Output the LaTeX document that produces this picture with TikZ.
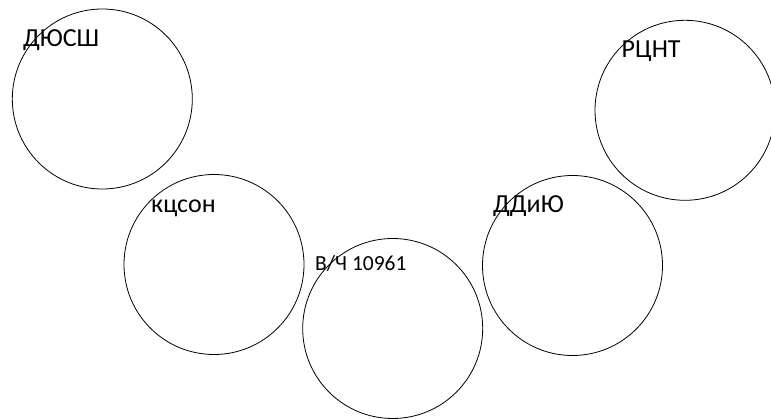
\documentclass[tikz,border=0pt]{standalone}
\usepackage{fontspec}
\setmainfont{Carlito}
\usepackage{tikz}
\pgfdeclarelayer{bg}
\pgfsetlayers{bg,main}
\tikzset{
        ring/.style={draw, circle, line width=0.8pt, minimum size=180pt, inner sep=0pt},
        tag/.style={anchor=base west, inner sep=0pt, font=\fontsize{26}{28}\selectfont},
        smalltag/.style={tag, font=\fontsize{21.5}{23}\selectfont}
}

\begin{document}
\begin{tikzpicture}
        \useasboundingbox (0pt, 0pt) rectangle (771pt, -419pt);
        \node (t0) [tag] at (23.000000pt, -47.000000pt) {ДЮСШ};
        \node (t1) [tag] at (151.000000pt, -212.500000pt) {кцсон};
        \node (t2) [smalltag] at (315.000000pt, -271.000000pt) {В/Ч 10961};
        \node (t3) [tag] at (493.000000pt, -213.000000pt) {ДДиЮ};
        \node (t4) [tag] at (621.500000pt, -57.700000pt) {РЦНТ};
        \begin{pgfonlayer}{bg}
                \node (c0) [ring] at (102.300000pt, -99.000000pt) {};
                \node (c1) [ring] at (214.000000pt, -264.500000pt) {};
                \node (c2) [ring] at (392.700000pt, -328.500000pt) {};
                \node (c3) [ring] at (572.500000pt, -265.500000pt) {};
                \node (c4) [ring] at (685.000000pt, -110.300000pt) {};
        \end{pgfonlayer}
\end{tikzpicture}
\end{document}
